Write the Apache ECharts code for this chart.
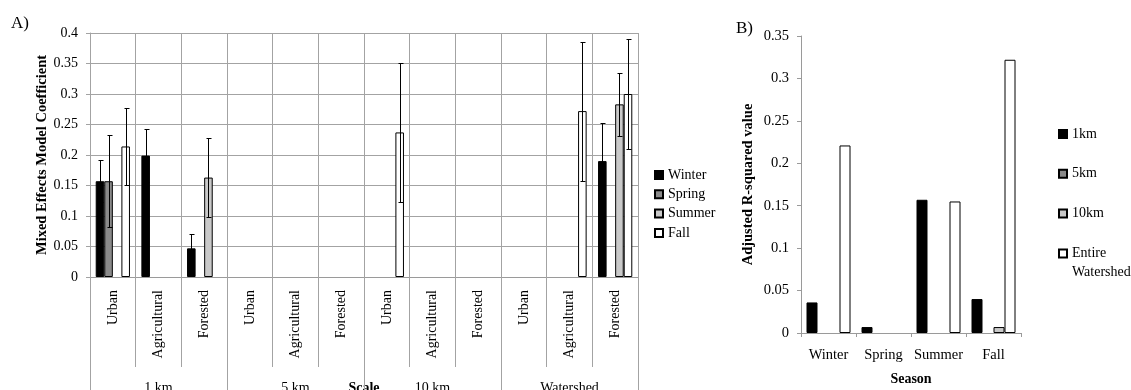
<!DOCTYPE html>
<html>
<head>
<meta charset="utf-8">
<script src="https://cdn.jsdelivr.net/npm/echarts@6/dist/echarts.min.js"></script>
<style>
  html, body { margin: 0; padding: 0; background: #fff; }
  #chart { width: 1131px; height: 390px; }
</style>
</head>
<body>
<div id="chart"></div>
<script>
// ---- Panel A: mixed effects model coefficients by land use and scale ----
const landUse = ['Urban', 'Agricultural', 'Forested',
                 'Urban', 'Agricultural', 'Forested',
                 'Urban', 'Agricultural', 'Forested',
                 'Urban', 'Agricultural', 'Forested'];
const scaleGroups = ['1 km', '5 km', '10 km', 'Watershed'];
const seasons = ['Winter', 'Spring', 'Summer', 'Fall'];

const winterCoef = [0.157, 0.199, 0.047, null, null, null, null, null, null, null, null, 0.190];
const winterErr  = [0.034, 0.043, 0.024, null, null, null, null, null, null, null, null, 0.063];
const springCoef = [0.157, null, null, null, null, null, null, null, null, null, null, null];
const springErr  = [0.075, null, null, null, null, null, null, null, null, null, null, null];
const summerCoef = [null, null, 0.163, null, null, null, null, null, null, null, null, 0.283];
const summerErr  = [null, null, 0.065, null, null, null, null, null, null, null, null, 0.052];
const fallCoef   = [0.214, null, null, null, null, null, 0.237, null, null, null, 0.272, 0.300];
const fallErr    = [0.063, null, null, null, null, null, 0.114, null, null, null, 0.114, 0.090];

// ---- Panel B: adjusted R-squared by season and scale ----
const seasonsB = ['Winter', 'Spring', 'Summer', 'Fall'];
const scaleNamesB = ['1km', '5km', '10km', 'Entire Watershed'];
const r2OneKm     = [0.036, 0.007, 0.157, 0.040];
const r2FiveKm    = [null, null, null, null];
const r2TenKm     = [null, null, null, 0.007];
const r2Watershed = [0.221, null, 0.155, 0.322];

const FONT = 'Liberation Serif';
const GRID_GRAY = '#a3a3a3';
const AXIS_GRAY = '#9a9a9a';
const fills = ['#000000', '#8a8a8a', '#c9c9c9', '#ffffff'];

const chart = echarts.init(document.getElementById('chart'), null, { renderer: 'canvas' });

const A_GAP = 0.25;   // barCategoryGap of panel A

function barA(name, values, k) {
  return {
    name: name, type: 'bar', xAxisIndex: 0, yAxisIndex: 0,
    barGap: '0%', barCategoryGap: (A_GAP * 100) + '%',
    itemStyle: { color: fills[k], borderColor: '#000', borderWidth: 1 },
    data: values, z: 2
  };
}

// Error bars drawn at the centre of each season's bar inside its category
function errorBars(k, values, errs) {
  const data = [];
  values.forEach(function (v, i) {
    if (v != null && errs[i] != null) data.push([i, v, errs[i]]);
  });
  return {
    type: 'custom', xAxisIndex: 0, yAxisIndex: 0, z: 5, silent: true,
    encode: { x: 0, y: [1] },
    renderItem: function (params, api) {
      const c = api.value(0), v = api.value(1), e = api.value(2);
      const band = api.size([1, 0])[0];
      const bw = band * (1 - A_GAP) / seasons.length;
      const x = Math.round(api.coord([c, v])[0] - band * (1 - A_GAP) / 2 + bw * (k + 0.5)) + 0.5;
      const yHi = Math.round(api.coord([c, v + e])[1]) + 0.5;
      const yLo = Math.round(api.coord([c, v - e])[1]) + 0.5;
      const cap = 2;
      const st = { stroke: '#000', lineWidth: 1 };
      return {
        type: 'group',
        children: [
          { type: 'line', shape: { x1: x, y1: yHi, x2: x, y2: yLo }, style: st },
          { type: 'line', shape: { x1: x - cap, y1: yHi, x2: x + cap + 1, y2: yHi }, style: st },
          { type: 'line', shape: { x1: x - cap, y1: yLo, x2: x + cap + 1, y2: yLo }, style: st }
        ]
      };
    },
    data: data
  };
}

function barB(name, values, k) {
  return {
    name: name, type: 'bar', xAxisIndex: 2, yAxisIndex: 1,
    barGap: '0%', barCategoryGap: '20%',
    itemStyle: { color: fills[k], borderColor: '#000', borderWidth: 1 },
    data: values
  };
}

const tickText = { fontFamily: FONT, fontSize: 14, color: '#000' };

const option = {
  backgroundColor: '#fff',
  animation: false,
  textStyle: { fontFamily: FONT },
  grid: [
    { left: 90, right: 493, top: 33, bottom: 113, outerBoundsMode: 'none', containLabel: false },
    { left: 801, right: 110, top: 36, bottom: 57, outerBoundsMode: 'none', containLabel: false }
  ],
  xAxis: [
    {
      type: 'category', gridIndex: 0, data: landUse, position: 'bottom',
      axisLine: { show: true, lineStyle: { color: AXIS_GRAY } },
      axisTick: { show: true, interval: 0, length: 90, lineStyle: { color: GRID_GRAY } },
      axisLabel: Object.assign({ interval: 0, rotate: 90, margin: 13 }, tickText),
      splitLine: { show: true, interval: 0, lineStyle: { color: GRID_GRAY } }
    },
    {
      type: 'category', gridIndex: 0, data: scaleGroups, position: 'bottom',
      axisLine: { show: false },
      axisTick: { show: true, interval: 0, length: 114, lineStyle: { color: GRID_GRAY } },
      axisLabel: Object.assign({ interval: 0, margin: 104 }, tickText),
      splitLine: { show: false },
      name: 'Scale', nameLocation: 'middle', nameGap: 98, nameMoveOverlap: false,
      nameTextStyle: { fontFamily: FONT, fontSize: 14, fontWeight: 'bold', color: '#000',
                       backgroundColor: '#fff', padding: [6, 3, 0, 3] }
    },
    {
      type: 'category', gridIndex: 1, data: seasonsB,
      axisLine: { show: true, lineStyle: { color: AXIS_GRAY } },
      axisTick: { show: true, interval: 0, length: 4, lineStyle: { color: AXIS_GRAY } },
      axisLabel: Object.assign({ interval: 0, margin: 15 }, tickText, { fontSize: 14.5 }),
      splitLine: { show: false },
      name: 'Season', nameLocation: 'middle', nameGap: 39, nameMoveOverlap: false,
      nameTextStyle: { fontFamily: FONT, fontSize: 14, fontWeight: 'bold', color: '#000' }
    }
  ],
  yAxis: [
    {
      type: 'value', gridIndex: 0, min: 0, max: 0.4, interval: 0.05,
      axisLine: { show: true, lineStyle: { color: GRID_GRAY } },
      axisTick: { show: true, length: 4, lineStyle: { color: GRID_GRAY } },
      axisLabel: Object.assign({ margin: 12 }, tickText),
      splitLine: { show: true, lineStyle: { color: GRID_GRAY } },
      name: 'Mixed Effects Model Coefficient', nameLocation: 'middle', nameGap: 40, nameMoveOverlap: false,
      nameTextStyle: { fontFamily: FONT, fontSize: 14.5, fontWeight: 'bold', color: '#000' }
    },
    {
      type: 'value', gridIndex: 1, min: 0, max: 0.35, interval: 0.05,
      axisLine: { show: true, lineStyle: { color: AXIS_GRAY } },
      axisTick: { show: true, length: 4, lineStyle: { color: AXIS_GRAY } },
      axisLabel: Object.assign({ margin: 12 }, tickText, { fontSize: 14.5 }),
      splitLine: { show: false },
      name: 'Adjusted R-squared value', nameLocation: 'middle', nameGap: 45, nameMoveOverlap: false,
      nameTextStyle: { fontFamily: FONT, fontSize: 14.5, fontWeight: 'bold', color: '#000' }
    }
  ],
  legend: [
    {
      data: seasons, orient: 'vertical', left: 654, top: 167.5, padding: 0,
      icon: 'rect', itemWidth: 8, itemHeight: 8, itemGap: 4.3, selectedMode: false,
      textStyle: { fontFamily: FONT, fontSize: 14, color: '#000', lineHeight: 15 }
    },
    {
      data: scaleNamesB.slice(0, 3), orient: 'vertical', left: 1058, top: 124.5, padding: 0,
      icon: 'rect', itemWidth: 8, itemHeight: 8, itemGap: 20.7, selectedMode: false,
      textStyle: { fontFamily: FONT, fontSize: 14, color: '#000', lineHeight: 19 }
    },
    {
      // leading blank line keeps the first word level with the swatch
      data: scaleNamesB.slice(3), orient: 'vertical', left: 1058, top: 225, padding: 0,
      icon: 'rect', itemWidth: 8, itemHeight: 8, selectedMode: false,
      formatter: function (n) { return ' \n' + n.replace(' ', '\n'); },
      textStyle: { fontFamily: FONT, fontSize: 14, color: '#000', lineHeight: 19 }
    }
  ],
  graphic: [
    { type: 'text', left: 11, top: 15, style: { text: 'A)', font: '17px "Liberation Serif"', fill: '#000' } },
    { type: 'text', left: 736, top: 20, style: { text: 'B)', font: '17px "Liberation Serif"', fill: '#000' } }
  ],
  series: [
    barA(seasons[0], winterCoef, 0),
    barA(seasons[1], springCoef, 1),
    barA(seasons[2], summerCoef, 2),
    barA(seasons[3], fallCoef, 3),
    errorBars(0, winterCoef, winterErr),
    errorBars(1, springCoef, springErr),
    errorBars(2, summerCoef, summerErr),
    errorBars(3, fallCoef, fallErr),
    barB(scaleNamesB[0], r2OneKm, 0),
    barB(scaleNamesB[1], r2FiveKm, 1),
    barB(scaleNamesB[2], r2TenKm, 2),
    barB(scaleNamesB[3], r2Watershed, 3)
  ]
};

chart.setOption(option);
</script>
</body>
</html>
